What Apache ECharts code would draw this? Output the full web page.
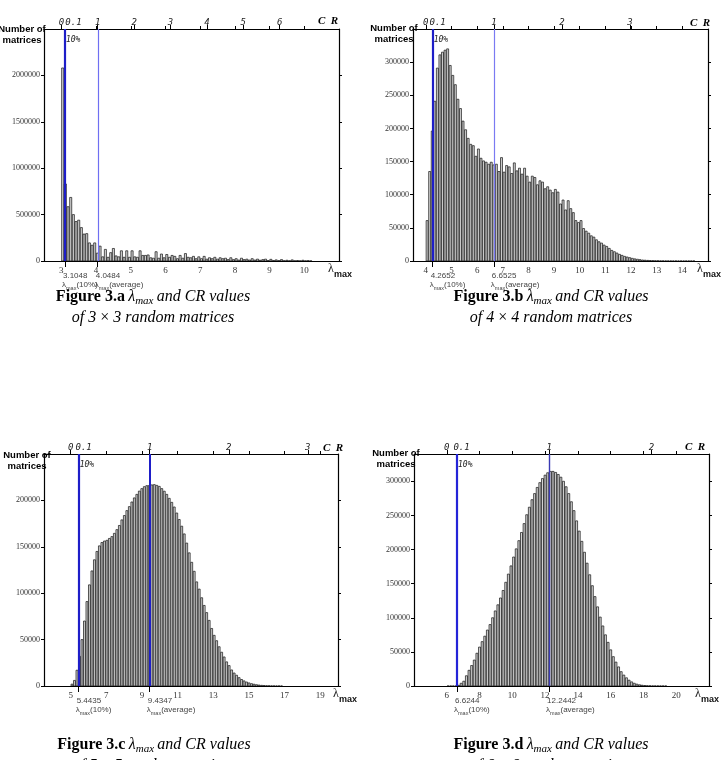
<!DOCTYPE html>
<html><head><meta charset="utf-8">
<script src="https://cdn.jsdelivr.net/npm/echarts@6/dist/echarts.min.js"></script>
<style>html,body{margin:0;padding:0;background:#fff}#c{width:725px;height:760px}</style>
</head><body><div id="c"></div>
<script>
// ---------- DATA ----------
// Figure 3.a : 3x3 random matrices
const binStartA = 3.0, binWidthA = 0.0769;
const countsA = [2080000, 830000, 585000, 685000, 500000, 425000, 440000, 360000, 290000, 295000, 195000, 170000, 195000,
  85000, 160000, 45000, 125000, 40000, 90000, 135000, 55000, 45000, 110000, 40000, 110000, 40000,
  110000, 45000, 40000, 110000, 60000, 60000, 65000, 35000, 30000, 100000, 30000, 75000, 35000,
  70000, 40000, 60000, 50000, 25000, 60000, 30000, 80000, 40000, 35000, 50000, 25000, 45000,
  25000, 50000, 20000, 35000, 25000, 40000, 20000, 35000, 25000, 30000, 15000, 35000, 15000,
  25000, 10000, 30000, 15000, 20000, 10000, 25000, 10000, 20000, 8000, 15000, 20000, 5000,
  18000, 5000, 12000, 4000, 15000, 3000, 8000, 3000, 12000, 2000, 5000, 2000, 8000,
  2000, 4000, 1000];
const lambda10A = 3.1048, lambdaAvgA = 4.0484;
const xTicksA = [3, 4, 5, 6, 7, 8, 9, 10];
const yTicksA = [0, 500000, 1000000, 1500000, 2000000];
const crLabelsA = [0, 0.1, 1, 2, 3, 4, 5, 6];

// Figure 3.b : 4x4 random matrices
const binStartB = 4.0, binWidthB = 0.1;
const countsB = [61000, 135000, 196000, 241000, 291000, 311000, 315000, 318000, 320000, 295000,
  280000, 266000, 244000, 230000, 211000, 198000, 185000, 176000, 174000, 158000,
  169000, 155000, 151000, 149000, 146000, 149000, 145000, 146000, 135000, 156000,
  134000, 144000, 142000, 132000, 148000, 136000, 140000, 131000, 140000, 128000,
  119000, 128000, 126000, 115000, 121000, 119000, 109000, 112000, 107000, 103000,
  108000, 104000, 86000, 92000, 77000, 91000, 79000, 73000, 61000, 58000,
  61000, 49000, 45000, 42000, 38000, 36000, 32000, 29000, 27000, 24000,
  22000, 19000, 16000, 14000, 12000, 10000, 8500, 7000, 6000, 5000,
  4000, 3200, 2600, 2000, 1500, 1200, 900, 700, 500, 400,
  300, 200, 150, 100, 80, 60, 40, 30, 20, 15,
  10, 8, 5, 3, 2];
const lambda10B = 4.2652, lambdaAvgB = 6.6525;
const xTicksB = [4, 5, 6, 7, 8, 9, 10, 11, 12, 13, 14];
const yTicksB = [0, 50000, 100000, 150000, 200000, 250000, 300000];
const crLabelsB = [0, 0.1, 1, 2, 3];

// Figure 3.c : 5x5 random matrices
const binStartC = 5.0, binWidthC = 0.14;
const countsC = [2000, 6000, 17000, 32000, 50000, 70000, 91000, 109000, 124000, 136000,
  145000, 151000, 154600, 156200, 157000, 159000, 161000, 164500, 168500, 173000,
  179000, 183700, 189000, 193300, 198300, 202700, 206500, 210000, 212700, 214800,
  215900, 216000, 216700, 217000, 216200, 215100, 212700, 209900, 206500, 202200,
  197900, 192900, 186400, 179400, 172200, 163900, 154000, 143500, 133300, 123600,
  112200, 104400, 95100, 86800, 79100, 70700, 62000, 54600, 48800, 42300,
  36400, 31300, 26000, 22000, 17300, 14000, 11600, 9000, 7000, 5500,
  4300, 3300, 2500, 1900, 1400, 1000, 700, 450, 300, 200,
  120, 70, 40, 20, 10];
const lambda10C = 5.4435, lambdaAvgC = 9.4347;
const xTicksC = [5, 7, 9, 11, 13, 15, 17, 19];
const yTicksC = [0, 50000, 100000, 150000, 200000];
const crLabelsC = [0, 0.1, 1, 2, 3];

// Figure 3.d : 6x6 random matrices
const binStartD = 6.0, binWidthD = 0.16;
const countsD = [0, 0, 0, 0, 1000, 4000, 7000, 15000, 23000, 30000,
  38000, 48000, 57000, 65000, 73000, 82000, 90000, 100000, 110000, 119000,
  129000, 140000, 152000, 164000, 176000, 189000, 201000, 213000, 225000, 238000,
  251000, 262000, 273000, 282000, 291000, 298000, 304000, 309000, 312500, 314500,
  314500, 313000, 310000, 306000, 300000, 292000, 282000, 270000, 257000, 242000,
  227000, 212000, 196000, 180000, 163000, 147000, 131000, 116000, 101000, 88000,
  75000, 64000, 53000, 43000, 35000, 28000, 21000, 16000, 12000, 8500,
  6000, 4000, 2700, 1800, 1100, 700, 400, 250, 150, 100,
  60, 40, 20, 10];
const lambda10D = 6.6244, lambdaAvgD = 12.2442;
const xTicksD = [6, 8, 10, 12, 14, 16, 18, 20];
const yTicksD = [0, 50000, 100000, 150000, 200000, 250000, 300000];
const crLabelsD = [0, 0.1, 1, 2];

// ---------- CHART ----------
const panels = [
  {n: 3, letter: 'a', counts: countsA, start: binStartA, bw: binWidthA, l10: lambda10A, lavg: lambdaAvgA,
   xTicks: xTicksA, yTicks: yTicksA, cr: crLabelsA, xMin: 2.5, xMax: 11, yMax: 2500000,
   box: [44, 29, 295, 232], c10: '#1e1ec8', cAvg: '#6f6ff2', wAvg: 1.2, crShift: 17,
   numX: 22, numY: 29, crX: 318, crY: 21, lamDX: -11, capX: 153, capY: 297},
  {n: 4, letter: 'b', counts: countsB, start: binStartB, bw: binWidthB, l10: lambda10B, lavg: lambdaAvgB,
   xTicks: xTicksB, yTicks: yTicksB, cr: crLabelsB, xMin: 3.5, xMax: 15, yMax: 350000,
   box: [413, 29, 295, 232], c10: '#1e1ec8', cAvg: '#7a7af2', wAvg: 1.2, crShift: 10,
   numX: 394, numY: 28, crX: 690, crY: 23, lamDX: -11, capX: 551, capY: 297},
  {n: 5, letter: 'c', counts: countsC, start: binStartC, bw: binWidthC, l10: lambda10C, lavg: lambdaAvgC,
   xTicks: xTicksC, yTicks: yTicksC, cr: crLabelsC, xMin: 3.5, xMax: 20, yMax: 250000,
   box: [44, 454, 294, 232], c10: '#1e1ec8', cAvg: '#1e1ec8', wAvg: 2, crShift: 10,
   numX: 27, numY: 455, crX: 323, crY: 448, lamDX: -5, capX: 154, capY: 745},
  {n: 6, letter: 'd', counts: countsD, start: binStartD, bw: binWidthD, l10: lambda10D, lavg: lambdaAvgD,
   xTicks: xTicksD, yTicks: yTicksD, cr: crLabelsD, xMin: 4, xMax: 22, yMax: 340000,
   box: [414, 454, 295, 232], c10: '#2424d8', cAvg: '#3a3ab4', wAvg: 1.4, crShift: 9,
   numX: 396, numY: 453, crX: 685, crY: 447, lamDX: -14, capX: 551, capY: 745}
];

const chart = echarts.init(document.getElementById('c'), null, {renderer: 'canvas'});
const serif = 'Liberation Serif', sans = 'Liberation Sans', mono = 'DejaVu Sans Mono';
const option = {animation: false, backgroundColor: '#fff', grid: [], xAxis: [], yAxis: [], series: []};

panels.forEach(function (p, k) {
  const axisLine = {show: true, onZero: false, lineStyle: {color: '#000', width: 1.2}};
  option.grid.push({left: p.box[0], top: p.box[1], width: p.box[2], height: p.box[3]});
  // bottom lambda axis
  option.xAxis.push({type: 'value', gridIndex: k, position: 'bottom', min: p.xMin, max: p.xMax,
    axisLine: axisLine,
    axisTick: {show: true, customValues: [p.l10, p.lavg], length: 6, lineStyle: {color: '#000', width: 1}},
    axisLabel: {customValues: p.xTicks, fontFamily: serif, fontSize: 9, color: '#333', margin: 5,
      formatter: function (v) { return String(v); }},
    splitLine: {show: false}});
  // top mirror ticks
  option.xAxis.push({type: 'value', gridIndex: k, position: 'top', min: p.xMin, max: p.xMax,
    axisLine: axisLine,
    axisTick: {show: true, customValues: p.xTicks, length: 3, lineStyle: {color: '#000', width: 1}},
    axisLabel: {show: false}, splitLine: {show: false}});
  // top CR axis
  const d = p.lavg - p.n;
  option.xAxis.push({type: 'value', gridIndex: k, position: 'top', min: (p.xMin - p.n) / d, max: (p.xMax - p.n) / d,
    axisLine: {show: false, onZero: false},
    axisTick: {show: true, customValues: p.cr.filter(function (v) { return v !== 0.1; }), length: 4, lineStyle: {color: '#000', width: 1}},
    axisLabel: {customValues: p.cr, margin: 2,
      formatter: function (v) { return Math.abs(v - 0.1) < 1e-9 ? '{s|0.1}' : '{n|' + v + '}'; },
      rich: {
        n: {fontFamily: mono, fontStyle: 'italic', fontSize: 9, color: '#222'},
        s: {fontFamily: mono, fontStyle: 'italic', fontSize: 9, color: '#222', padding: [0, 0, 0, p.crShift]}
      }},
    splitLine: {show: false}});
  option.yAxis.push({type: 'value', gridIndex: k, position: 'left', min: 0, max: p.yMax,
    axisLine: axisLine,
    axisTick: {show: true, customValues: p.yTicks, length: 3, lineStyle: {color: '#000'}},
    axisLabel: {customValues: p.yTicks, fontFamily: serif, fontSize: 8, color: '#333', margin: 4,
      formatter: function (v) { return String(v); }},
    splitLine: {show: false}});
  option.yAxis.push({type: 'value', gridIndex: k, position: 'right', min: 0, max: p.yMax,
    axisLine: axisLine,
    axisTick: {show: true, customValues: p.yTicks, length: 3, lineStyle: {color: '#000'}},
    axisLabel: {show: false}, splitLine: {show: false}});

  const data = p.counts.map(function (c, i) { return [p.start + i * p.bw, p.start + (i + 1) * p.bw, c]; });
  option.series.push({
    type: 'custom', xAxisIndex: 3 * k, yAxisIndex: 2 * k, data: data, encode: {x: [0, 1], y: 2}, clip: true,
    renderItem: function (params, api) {
      const a = api.coord([api.value(0), 0]);
      const b = api.coord([api.value(1), api.value(2)]);
      return {type: 'rect',
        shape: {x: a[0] + 0.3, y: b[1], width: Math.max(b[0] - a[0] - 0.6, 0.5), height: a[1] - b[1]},
        style: {fill: '#d2d2d2', stroke: '#111', lineWidth: 0.7}};
    },
    markLine: {symbol: 'none', silent: true, label: {show: false}, animation: false, z: 10,
      data: [
        {xAxis: p.l10, lineStyle: {color: p.c10, width: 2.2, type: 'solid'}},
        {xAxis: p.lavg, lineStyle: {color: p.cAvg, width: p.wAvg, type: 'solid'}}
      ]}
  });
});
chart.setOption(option);

// ---------- annotations ----------
const g = [];
function txt(x, y, text, style) {
  g.push({type: 'text', x: x, y: y, z: 100, style: Object.assign({text: text, fill: '#000'}, style)});
}
const sizes = {a: '3', b: '4', c: '5', d: '6'};
panels.forEach(function (p, k) {
  const yb = chart.convertToPixel({yAxisIndex: 2 * k}, 0);
  const yt = chart.convertToPixel({yAxisIndex: 2 * k}, p.yMax);
  const xr = chart.convertToPixel({xAxisIndex: 3 * k}, p.xMax);
  // y title
  txt(p.numX, p.numY, 'Number of', {font: 'bold 9.5px "Liberation Sans"', textAlign: 'center', align: 'center', textVerticalAlign: 'middle', verticalAlign: 'middle'});
  txt(p.numX, p.numY + 11, 'matrices', {font: 'bold 9.5px "Liberation Sans"', textAlign: 'center', align: 'center', textVerticalAlign: 'middle', verticalAlign: 'middle'});
  // C R
  txt(p.crX, p.crY, 'C  R', {font: 'italic bold 11px "Liberation Serif"', textVerticalAlign: 'middle', verticalAlign: 'middle'});
  // lambda max axis name
  txt(xr + p.lamDX, yb + 8, 'λ', {font: '12px "Liberation Serif"', fill: '#222', textVerticalAlign: 'middle', verticalAlign: 'middle'});
  txt(xr + p.lamDX + 6, yb + 14, 'max', {font: 'bold 9px "Liberation Sans"', fill: '#111', textVerticalAlign: 'middle', verticalAlign: 'middle'});
  // 10% tag
  const x10 = chart.convertToPixel({xAxisIndex: 3 * k}, p.l10);
  const xav = chart.convertToPixel({xAxisIndex: 3 * k}, p.lavg);
  txt(x10 + 1, yt + 11, '10%', {font: 'italic 8px "DejaVu Sans Mono"', fill: '#222', textVerticalAlign: 'middle', verticalAlign: 'middle'});
  // value labels below axis
  [[x10, p.l10, '(10%)'], [xav, p.lavg, '(average)']].forEach(function (e) {
    txt(e[0] - 2, yb + 15, String(e[1]), {font: '8px "Liberation Sans"', fill: '#444', textVerticalAlign: 'middle', verticalAlign: 'middle'});
    g.push({type: 'text', x: e[0] - 3, y: yb + 24, z: 100, style: {
      text: '{a|λ}{s|max}{a|' + e[2] + '}', textVerticalAlign: 'middle', verticalAlign: 'middle',
      rich: {a: {fontFamily: sans, fontSize: 8, fill: '#444'}, s: {fontFamily: sans, fontSize: 5.5, fill: '#444', padding: [6, 0, 0, 0]}}}});
  });
  // captions
  g.push({type: 'text', x: p.capX, y: p.capY, z: 100, style: {
    text: '{b|Figure 3.' + p.letter + '} {l|λ}{s|max} {i|and CR values}',
    textAlign: 'center', align: 'center', textVerticalAlign: 'middle', verticalAlign: 'middle',
    rich: {b: {fontFamily: serif, fontWeight: 'bold', fontSize: 16, fill: '#000'},
           l: {fontFamily: serif, fontStyle: 'italic', fontSize: 16, fill: '#000'},
           s: {fontFamily: serif, fontStyle: 'italic', fontSize: 11, fill: '#000', padding: [8, 0, 0, 0]},
           i: {fontFamily: serif, fontStyle: 'italic', fontSize: 16, fill: '#000'}}}});
  g.push({type: 'text', x: p.capX, y: p.capY + 21, z: 100, style: {
    text: '{i|of ' + sizes[p.letter] + ' }{u|×}{i| ' + sizes[p.letter] + ' random matrices}',
    textAlign: 'center', align: 'center', textVerticalAlign: 'middle', verticalAlign: 'middle',
    rich: {i: {fontFamily: serif, fontStyle: 'italic', fontSize: 16, fill: '#000'},
           u: {fontFamily: serif, fontSize: 16, fill: '#000'}}}});
});
chart.setOption({graphic: {elements: g}});
</script>
</body></html>
